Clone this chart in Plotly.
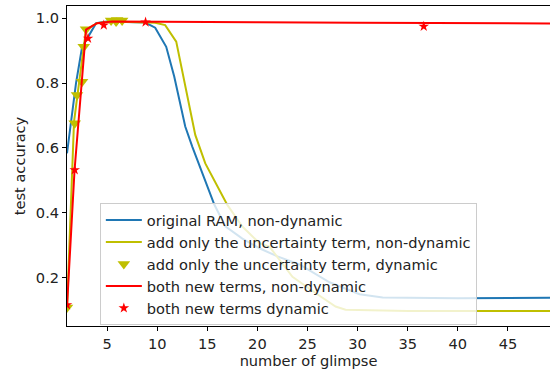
import plotly.graph_objects as go

# original RAM, non-dynamic
blue_x = [1, 1.9, 2.5, 3.9, 5, 8.8, 9.8, 10.9, 11.7, 12.8, 13.5, 15.7, 16.8, 18.5, 20.2, 22, 24.2, 27.2, 30.2, 32.5, 40, 50]
blue_y = [0.583, 0.80, 0.91, 0.985, 0.99, 0.987, 0.971, 0.912, 0.82, 0.666, 0.604, 0.425, 0.358, 0.32, 0.29, 0.265, 0.24, 0.185, 0.148, 0.138, 0.136, 0.137]

# add only the uncertainty term, non-dynamic
yel_x = [1, 1.7, 2.2, 2.9, 4.0, 5.5, 9.8, 10.8, 11.9, 12.5, 13.8, 14.8, 17.0, 18.5, 20.2, 21.2, 23.5, 25.8, 27.8, 28.8, 35, 50]
yel_y = [0.10, 0.68, 0.80, 0.965, 0.985, 0.99, 0.986, 0.979, 0.928, 0.835, 0.64, 0.552, 0.424, 0.357, 0.306, 0.295, 0.202, 0.152, 0.110, 0.100, 0.096, 0.096]

# add only the uncertainty term, dynamic
tri_x = [1.0, 1.77, 2.0, 2.5, 2.67, 2.9, 5.4, 5.9, 6.0, 6.5]
tri_y = [0.107, 0.676, 0.763, 0.804, 0.912, 0.966, 0.993, 0.99, 0.995, 0.993]

# both new terms, non-dynamic
red_x = [1, 1.75, 2.9, 4.0, 5.5, 10, 20, 30, 40, 50]
red_y = [0.11, 0.53, 0.965, 0.985, 0.99, 0.99, 0.988, 0.986, 0.985, 0.984]

# both new terms dynamic
star_x = [1.0, 1.77, 3.1, 4.67, 8.84, 36.6]
star_y = [0.115, 0.532, 0.938, 0.979, 0.988, 0.975]

names = [
    "original RAM, non-dynamic",
    "add only the uncertainty term, non-dynamic",
    "add only the uncertainty term, dynamic",
    "both new terms, non-dynamic",
    "both new terms dynamic",
]
x_ticks = [5, 10, 15, 20, 25, 30, 35, 40, 45]
y_ticks = [0.2, 0.4, 0.6, 0.8, 1.0]

BLUE = "#1f77b4"
YEL = "#bfbf00"
RED = "#ff0000"
FONT = "DejaVu Sans"
FS = 14.6

fig = go.Figure()
fig.add_trace(go.Scatter(x=blue_x, y=blue_y, mode="lines", name=names[0],
                         line=dict(color=BLUE, width=2)))
fig.add_trace(go.Scatter(x=yel_x, y=yel_y, mode="lines", name=names[1],
                         line=dict(color=YEL, width=2)))
fig.add_trace(go.Scatter(x=tri_x, y=tri_y, mode="markers", name=names[2],
                         marker=dict(symbol="triangle-down", color=YEL, size=11)))
fig.add_trace(go.Scatter(x=red_x, y=red_y, mode="lines", name=names[3],
                         line=dict(color=RED, width=2)))
fig.add_trace(go.Scatter(x=star_x, y=star_y, mode="markers", name=names[4],
                         marker=dict(symbol="star", color=RED, size=8)))

fig.update_layout(
    width=550, height=373,
    margin=dict(l=67, r=0, t=6, b=47),
    paper_bgcolor="white", plot_bgcolor="white",
    font=dict(family=FONT, size=FS, color="black"),
    legend=dict(x=0.068, y=0.384, xanchor="left", yanchor="top",
                bgcolor="rgba(255,255,255,0.8)", bordercolor="#cccccc", borderwidth=1,
                itemwidth=36,
                font=dict(family=FONT, size=FS, color="#222222")),
    xaxis=dict(range=[1, 49.2], tickvals=x_ticks, showgrid=False, zeroline=False,
               showline=True, linecolor="black", linewidth=1, mirror=True,
               ticks="outside", ticklen=4, tickcolor="black",
               tickfont=dict(family=FONT, size=FS, color="#222222"),
               title=dict(text="number of glimpse", standoff=4,
                          font=dict(family=FONT, size=FS, color="#222222"))),
    yaxis=dict(range=[0.05, 1.038], tickvals=y_ticks, ticktext=["0.2", "0.4", "0.6", "0.8", "1.0"],
               showgrid=False, zeroline=False,
               showline=True, linecolor="black", linewidth=1,
               ticks="outside", ticklen=4, tickcolor="black",
               tickfont=dict(family=FONT, size=FS, color="#222222"),
               title=dict(text="test accuracy", standoff=6,
                          font=dict(family=FONT, size=FS, color="#222222"))),
)

fig.write_html("out.html", config={"displayModeBar": False},
               post_script="document.body.style.margin='0';")
